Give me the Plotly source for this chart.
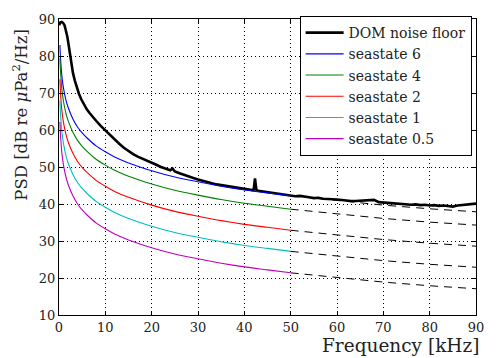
import plotly.graph_objects as go

# ---- data ----
freq_model = [0.2, 0.3, 0.5, 0.7, 1, 1.5, 2, 3, 4, 5, 6, 8, 10, 12, 15, 20, 25, 30, 35, 40, 45, 50]
freq_extrap = [50, 60, 70, 80, 90]

ss6 = [83.0, 80.0, 76.2, 73.7, 71.1, 68.1, 66.0, 63.0, 60.8, 59.2, 57.9, 55.7, 54.1, 52.7, 51.1, 49.0, 47.3, 46.0, 44.8, 43.8, 43.0, 42.2]
ss4 = [79.4, 76.4, 72.6, 70.1, 67.5, 64.5, 62.4, 59.4, 57.2, 55.6, 54.3, 52.1, 50.5, 49.1, 47.5, 45.4, 43.7, 42.4, 41.2, 40.2, 39.4, 38.6]
ss2 = [73.7, 70.7, 66.9, 64.4, 61.8, 58.8, 56.7, 53.7, 51.5, 49.9, 48.6, 46.4, 44.8, 43.4, 41.8, 39.7, 38.0, 36.7, 35.5, 34.5, 33.7, 32.9]
ss1 = [68.0, 65.0, 61.2, 58.7, 56.1, 53.1, 51.0, 48.0, 45.8, 44.2, 42.9, 40.7, 39.1, 37.7, 36.1, 34.0, 32.3, 31.0, 29.8, 28.8, 28.0, 27.2]
ss05 = [62.2, 59.2, 55.4, 52.9, 50.3, 47.3, 45.2, 42.2, 40.0, 38.4, 37.1, 34.9, 33.3, 31.9, 30.3, 28.2, 26.5, 25.2, 24.0, 23.0, 22.2, 21.4]

ss6_ext = [42.2, 40.9, 39.7, 38.7, 37.9]
ss4_ext = [38.6, 37.3, 36.1, 35.1, 34.3]
ss2_ext = [32.9, 31.6, 30.4, 29.4, 28.6]
ss1_ext = [27.2, 25.9, 24.7, 23.7, 22.9]
ss05_ext = [21.4, 20.1, 18.9, 17.9, 17.1]

noise_f = [0.0, 0.3, 0.6, 0.9, 1.2, 1.5, 1.8, 2.1, 2.4, 2.7, 3.0, 3.4, 3.8, 4.3, 4.8, 5.4, 6.0, 6.6, 7.2, 8.0, 9.0,
           10, 11, 12, 13, 14, 15, 16, 17, 18, 19, 20, 21, 22, 23, 24, 24.5, 25, 26, 27, 28, 29, 30,
           31, 32, 33, 34, 35, 36, 37, 38, 39, 40, 41, 42, 42.3, 42.6, 43, 44, 45, 46, 47, 48, 49, 50,
           51, 52, 53, 54, 55, 56, 57, 58, 59, 60, 61, 62, 63, 64, 65, 66, 67, 68, 69, 70,
           71, 72, 73, 74, 75, 76, 77, 78, 79, 80, 81, 82, 83, 84, 85, 86, 87, 88, 89, 90]
noise_v = [88.3, 89.1, 89.2, 88.9, 88.3, 87.0, 85.2, 82.8, 80.2, 77.6, 75.5, 73.4, 71.6, 69.8, 68.3, 66.8, 65.6, 64.6, 63.6, 62.5, 61.1,
           59.9, 58.6, 57.3, 56.3, 55.2, 54.3, 53.5, 52.8, 52.3, 51.6, 51.1, 50.6, 50.0, 49.5, 49.1, 49.6, 48.8, 48.3, 47.8, 47.3, 47.0, 46.6,
           46.2, 45.9, 45.6, 45.3, 45.1, 44.9, 44.6, 44.4, 44.2, 44.0, 43.8, 43.7, 46.9, 43.8, 43.6, 43.4, 43.2, 43.1, 42.8, 42.7, 42.4, 42.3,
           42.1, 42.2, 41.9, 41.8, 41.6, 41.7, 41.4, 41.4, 41.3, 41.2, 41.1, 40.9, 40.8, 40.8, 40.9, 41.0, 41.0, 41.1, 40.5, 40.4,
           40.2, 40.1, 40.0, 40.1, 39.9, 39.8, 39.9, 39.7, 39.8, 39.6, 39.7, 39.5, 39.6, 39.4, 39.3, 39.6, 39.7, 39.8, 39.9, 40.1]

series = [
    ("seastate 6", ss6, ss6_ext, "#0000ff"),
    ("seastate 4", ss4, ss4_ext, "#008000"),
    ("seastate 2", ss2, ss2_ext, "#ff0000"),
    ("seastate 1", ss1, ss1_ext, "#00bfbf"),
    ("seastate 0.5", ss05, ss05_ext, "#bf00bf"),
]

FONT = "DejaVu Serif"

fig = go.Figure()
# dashed extrapolations (drawn first, underneath)
for name, vals, ext, col in series:
    fig.add_trace(go.Scatter(x=freq_extrap, y=ext, mode="lines", showlegend=False,
                             line=dict(color="black", width=1, dash="8px,6px"), hoverinfo="skip"))

fig.add_trace(go.Scatter(x=noise_f, y=noise_v, mode="lines", name="DOM noise floor",
                         line=dict(color="black", width=2.6)))
for name, vals, ext, col in series:
    fig.add_trace(go.Scatter(x=freq_model, y=vals, mode="lines", name=name,
                             line=dict(color=col, width=1.1, shape="spline", smoothing=0.6)))

axis_common = dict(
    showline=True, linecolor="black", linewidth=1, mirror="allticks",
    ticks="inside", ticklen=4, tickcolor="black", tickwidth=1,
    showgrid=True, gridcolor="black", griddash="1px,3px", gridwidth=1,
    zeroline=False, tickfont=dict(family=FONT, size=13, color="#222222"),
)

fig.update_xaxes(range=[0, 90], tickmode="array", tickvals=list(range(0, 91, 10)), **axis_common)
fig.update_yaxes(range=[10, 90], tickmode="array", tickvals=list(range(10, 91, 10)), **axis_common)

fig.update_layout(
    width=496, height=358,
    margin=dict(l=59, r=16, t=14, b=43),
    paper_bgcolor="white", plot_bgcolor="white",
    font=dict(family=FONT, size=13, color="#222222"),
    legend=dict(x=0.577, y=1.01, xanchor="left", yanchor="top",
                bordercolor="black", borderwidth=1, bgcolor="white",
                font=dict(family=FONT, size=14, color="#222222"),
                itemwidth=38, tracegroupgap=0),
    annotations=[
        dict(text="Frequency [kHz]", xref="paper", yref="paper", x=1.012, y=-0.103,
             xanchor="right", yanchor="middle", showarrow=False,
             font=dict(family=FONT, size=18.5, color="#222222")),
        dict(text="PSD [dB re <i>μ</i>Pa<sup>2</sup>/Hz]", xref="paper", yref="paper",
             x=-0.0926, y=0.678, xanchor="center", yanchor="middle", textangle=-90,
             showarrow=False, font=dict(family=FONT, size=16.5, color="#222222")),
    ],
)

fig.write_html("out.html", config={"displayModeBar": False},
               post_script="document.body.style.margin='0';document.body.style.overflow='hidden';")
